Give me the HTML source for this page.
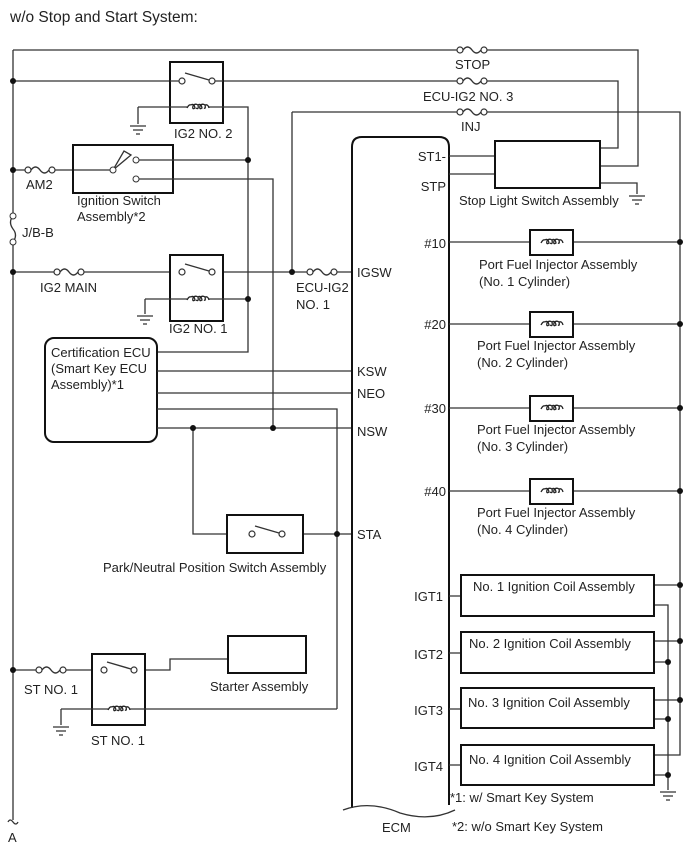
<!DOCTYPE html>
<html><head><meta charset="utf-8"><style>
body{margin:0;background:#fff}
svg{display:block}
text{font-family:"Liberation Sans",Arial,sans-serif;font-size:13px;fill:#222}
.w{stroke:#333;stroke-width:1.3;fill:none}
.b{stroke:#111;stroke-width:2;fill:#fff}
.d{fill:#111}
</style></head><body>
<svg width="688" height="852" viewBox="0 0 688 852" xmlns="http://www.w3.org/2000/svg">
<defs>
<g id="fuse"><rect x="0" y="-4" width="30" height="8" fill="#fff"/><circle cx="3" cy="0" r="3" fill="#fff" stroke="#333" stroke-width="1.2"/><path d="M6 0 Q10.5 -6 15 0 Q19.5 6 24 0" fill="none" stroke="#333" stroke-width="1.4"/><circle cx="27" cy="0" r="3" fill="#fff" stroke="#333" stroke-width="1.2"/></g>
<g id="coil"><rect x="0" y="-4" width="22" height="8" fill="#fff"/><path d="M0 1 Q2 -3 4 -2 M4 -2 Q7 -4 8 1 Q5 3 6 -1 Q8 -4 11 -2 Q12 3 9 1 M11 -2 Q14 -4 15 1 Q12 3 13 -1 Q15 -4 18 -2 Q19 2 17 1 M18 -2 Q21 -3 22 1" fill="none" stroke="#222" stroke-width="1.3"/></g>
<g id="gnd"><path d="M-8 0 H8 M-5 4 H5 M-2 8 H2" stroke="#333" stroke-width="1.3"/></g>
<g id="sw"><circle cx="0" cy="0" r="3" fill="#fff" stroke="#333" stroke-width="1.2"/><circle cx="30" cy="0" r="3" fill="#fff" stroke="#333" stroke-width="1.2"/><path d="M3 -8 L27 -1" stroke="#333" stroke-width="1.4"/></g>
</defs>
<text x="10" y="22" style="font-size:15.5px">w/o Stop and Start System:</text>

<path class="w" d="M13 50 V216 M13 242 V820"/>
<path d="M13 216 Q8 222 13 229 Q18 235 13 242" class="w"/>
<circle cx="13" cy="216" r="3" fill="#fff" stroke="#333"/><circle cx="13" cy="242" r="3" fill="#fff" stroke="#333"/>
<text x="22" y="237">J/B-B</text>
<path class="w" d="M8 822 Q10 818 13 822 Q16 826 18 822"/>
<text x="8" y="842">A</text>

<path class="w" d="M13 50 H638 V166 H600"/>
<use href="#fuse" x="457" y="50"/><text x="455" y="69">STOP</text>
<path class="w" d="M13 81 H170 M223 81 H618 V148 H600"/>
<use href="#fuse" x="457" y="81"/><text x="423" y="101">ECU-IG2 NO. 3</text>
<path class="w" d="M292 112 H680 V755 H654"/>
<use href="#fuse" x="457" y="112"/><text x="461" y="131">INJ</text>
<path class="w" d="M292 112 V272"/>

<rect class="b" x="170" y="62" width="53" height="61"/>
<path class="w" d="M170 81 H182 M212 81 H223"/>
<use href="#sw" x="182" y="81"/>
<path class="w" d="M138 107 H248 V352 H157"/>
<use href="#coil" x="187" y="107"/>
<path class="w" d="M138 107 V124"/><use href="#gnd" x="138" y="126"/>
<text x="174" y="138">IG2 NO. 2</text>

<path class="w" d="M13 170 H113"/>
<use href="#fuse" x="25" y="170"/><text x="26" y="189">AM2</text>
<rect class="b" x="73" y="145" width="100" height="48" style="fill:none"/>
<path class="w" d="M113 170 L124 151 L131 155 Z" fill="#fff"/>
<circle cx="113" cy="170" r="3" fill="#fff" stroke="#333"/>
<circle cx="136" cy="160" r="3" fill="#fff" stroke="#333"/>
<circle cx="136" cy="179" r="3" fill="#fff" stroke="#333"/>
<path class="w" d="M139 160 H248 M139 179 H273 V428"/>
<text x="77" y="205">Ignition Switch</text><text x="77" y="221">Assembly*2</text>

<path class="w" d="M13 272 H170 M223 272 H352"/>
<use href="#fuse" x="54" y="272"/><text x="40" y="292">IG2 MAIN</text>
<rect class="b" x="170" y="255" width="53" height="66"/>
<use href="#sw" x="182" y="272"/>
<path class="w" d="M145 299 H248 M145 299 V314"/><use href="#gnd" x="145" y="316"/>
<use href="#coil" x="187" y="299"/>
<use href="#fuse" x="307" y="272"/>
<text x="296" y="292">ECU-IG2</text><text x="296" y="309">NO. 1</text>
<text x="169" y="333">IG2 NO. 1</text>

<rect class="b" x="45" y="338" width="112" height="104" rx="9"/>
<text x="51" y="357">Certification ECU</text>
<text x="51" y="373">(Smart Key ECU</text>
<text x="51" y="389">Assembly)*1</text>
<path class="w" d="M157 371 H352 M157 393 H352 M157 409 H337 V709 M157 428 H352 M193 428 V534 H227 M303 534 H352"/>
<rect class="b" x="227" y="515" width="76" height="38"/>
<use href="#sw" x="252" y="534"/>
<text x="103" y="572">Park/Neutral Position Switch Assembly</text>

<path class="w" d="M13 670 H92 M145 670 H170 V659 H228"/>
<use href="#fuse" x="36" y="670"/><text x="24" y="694">ST NO. 1</text>
<rect class="b" x="92" y="654" width="53" height="71"/>
<use href="#sw" x="104" y="670"/>
<path class="w" d="M61 709 H337 M61 709 V725"/><use href="#gnd" x="61" y="727"/>
<use href="#coil" x="108" y="709"/>
<text x="91" y="745">ST NO. 1</text>
<rect class="b" x="228" y="636" width="78" height="37"/>
<text x="210" y="691">Starter Assembly</text>

<path d="M352 808 V147 Q352 137 362 137 H439 Q449 137 449 147 V805" stroke="#111" stroke-width="2" fill="none"/>
<path d="M343 810 Q370 800 400 813 Q430 822 455 810" class="w"/>
<text x="382" y="832">ECM</text>
<text x="357" y="277">IGSW</text>
<text x="357" y="376">KSW</text>
<text x="357" y="398">NEO</text>
<text x="357" y="436">NSW</text>
<text x="357" y="539">STA</text>
<g text-anchor="end">
<text x="446" y="161">ST1-</text><text x="446" y="191">STP</text>
<text x="446" y="248">#10</text><text x="446" y="329">#20</text>
<text x="446" y="413">#30</text><text x="446" y="496">#40</text>
<text x="443" y="601">IGT1</text><text x="443" y="659">IGT2</text>
<text x="443" y="715">IGT3</text><text x="443" y="771">IGT4</text>
</g>

<path class="w" d="M449 156 H495 M449 174 H495 M600 183 H637 V194"/>
<rect class="b" x="495" y="141" width="105" height="47"/>
<use href="#gnd" x="637" y="196"/>
<text x="459" y="205">Stop Light Switch Assembly</text>

<path class="w" d="M449 242 H680 M449 324 H680 M449 408 H680 M449 491 H680"/>
<rect class="b" x="530" y="230" width="43" height="25"/><use href="#coil" x="541" y="242"/>
<rect class="b" x="530" y="312" width="43" height="25"/><use href="#coil" x="541" y="324"/>
<rect class="b" x="530" y="396" width="43" height="25"/><use href="#coil" x="541" y="408"/>
<rect class="b" x="530" y="479" width="43" height="25"/><use href="#coil" x="541" y="491"/>
<text x="479" y="269">Port Fuel Injector Assembly</text><text x="479" y="286">(No. 1 Cylinder)</text>
<text x="477" y="350">Port Fuel Injector Assembly</text><text x="477" y="367">(No. 2 Cylinder)</text>
<text x="477" y="434">Port Fuel Injector Assembly</text><text x="477" y="451">(No. 3 Cylinder)</text>
<text x="477" y="517">Port Fuel Injector Assembly</text><text x="477" y="534">(No. 4 Cylinder)</text>

<path class="w" d="M449 596 H461 M449 653 H461 M449 709 H461 M449 765 H461"/>
<path class="w" d="M654 585 H680 M654 641 H680 M654 700 H680 M654 605 H668 V790 M654 662 H668 M654 719 H668 M654 775 H668"/>
<rect class="b" x="461" y="575" width="193" height="41"/>
<rect class="b" x="461" y="632" width="193" height="41"/>
<rect class="b" x="461" y="688" width="193" height="40"/>
<rect class="b" x="461" y="745" width="193" height="40"/>
<text x="473" y="591">No. 1 Ignition Coil Assembly</text>
<text x="469" y="648">No. 2 Ignition Coil Assembly</text>
<text x="468" y="707">No. 3 Ignition Coil Assembly</text>
<text x="469" y="764">No. 4 Ignition Coil Assembly</text>
<use href="#gnd" x="668" y="792"/>
<text x="450" y="802">*1: w/ Smart Key System</text>
<text x="452" y="831">*2: w/o Smart Key System</text>

<g class="d">
<circle cx="13" cy="81" r="3"/><circle cx="13" cy="170" r="3"/><circle cx="13" cy="272" r="3"/><circle cx="13" cy="670" r="3"/>
<circle cx="248" cy="160" r="3"/><circle cx="248" cy="299" r="3"/><circle cx="292" cy="272" r="3"/>
<circle cx="193" cy="428" r="3"/><circle cx="273" cy="428" r="3"/><circle cx="337" cy="534" r="3"/>
<circle cx="680" cy="242" r="3"/><circle cx="680" cy="324" r="3"/><circle cx="680" cy="408" r="3"/><circle cx="680" cy="491" r="3"/>
<circle cx="680" cy="585" r="3"/><circle cx="680" cy="641" r="3"/><circle cx="680" cy="700" r="3"/>
<circle cx="668" cy="662" r="3"/><circle cx="668" cy="719" r="3"/><circle cx="668" cy="775" r="3"/>
</g>
</svg>
</body></html>
